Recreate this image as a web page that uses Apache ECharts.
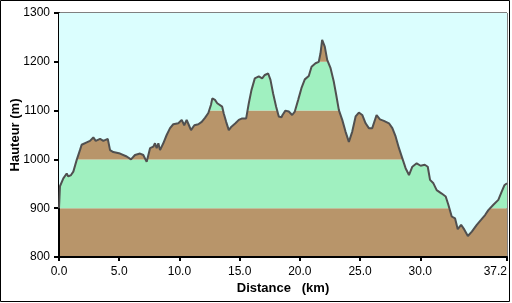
<!DOCTYPE html>
<html>
<head>
<meta charset="utf-8">
<script src="https://cdn.jsdelivr.net/npm/echarts@6/dist/echarts.min.js"></script>
<style>
html,body{margin:0;padding:0;background:#fff;}
#c{width:512px;height:303px;}
</style>
</head>
<body>
<div id="c"></div>
<script>
// Distance (km)
const distances = [0.0, 0.08, 0.17, 0.36, 0.64, 0.77, 1.0, 1.19, 1.47, 1.74, 1.88, 2.30, 2.57, 2.85, 3.05, 3.41, 3.68, 4.05, 4.24, 4.51, 5.07, 5.62, 5.98, 6.31, 6.73, 7.00, 7.28, 7.56, 7.83, 7.97, 8.11, 8.25, 8.39, 8.66, 8.94, 9.22, 9.49, 9.91, 10.19, 10.40, 10.60, 10.79, 10.96, 11.24, 11.57, 11.85, 12.12, 12.40, 12.62, 12.73, 12.95, 13.14, 13.27, 13.55, 13.68, 13.88, 14.10, 14.32, 14.65, 14.93, 15.21, 15.54, 15.76, 15.98, 16.26, 16.59, 16.87, 17.09, 17.37, 17.56, 17.78, 18.03, 18.25, 18.47, 18.56, 18.80, 19.08, 19.36, 19.58, 19.86, 20.13, 20.41, 20.74, 20.97, 21.30, 21.57, 21.71, 21.85, 22.07, 22.27, 22.55, 22.82, 23.02, 23.24, 23.52, 23.79, 24.07, 24.35, 24.63, 24.90, 25.18, 25.46, 25.73, 26.01, 26.37, 26.65, 26.98, 27.40, 27.68, 27.95, 28.23, 28.51, 28.78, 29.06, 29.34, 29.70, 30.03, 30.37, 30.62, 30.81, 31.09, 31.36, 31.78, 32.11, 32.33, 32.61, 32.89, 33.11, 33.39, 33.66, 33.95, 34.28, 34.69, 35.04, 35.38, 35.65, 36.07, 36.48, 36.76, 36.98, 37.2];
// Elevation (m)
const elevations = [900, 945, 947, 961, 971, 965, 968, 975, 999, 1019, 1030, 1035, 1038, 1045, 1038, 1042, 1038, 1042, 1019, 1015, 1012, 1006, 1000, 1009, 1012, 1009, 995, 1023, 1026, 1033, 1023, 1033, 1019, 1033, 1050, 1064, 1072, 1074, 1081, 1070, 1081, 1070, 1060, 1070, 1072, 1077, 1085, 1095, 1112, 1125, 1122, 1115, 1118, 1108, 1094, 1077, 1060, 1067, 1074, 1081, 1084, 1084, 1115, 1142, 1166, 1170, 1166, 1173, 1176, 1163, 1135, 1108, 1088, 1086, 1091, 1100, 1098, 1091, 1098, 1122, 1146, 1164, 1171, 1190, 1197, 1200, 1217, 1245, 1231, 1204, 1187, 1159, 1132, 1101, 1081, 1057, 1036, 1057, 1088, 1096, 1091, 1074, 1064, 1064, 1091, 1082, 1079, 1074, 1064, 1047, 1023, 1002, 982, 968, 985, 992, 987, 989, 985, 958, 951, 937, 930, 924, 907, 883, 879, 857, 866, 856, 843, 852, 866, 876, 886, 896, 907, 917, 934, 947, 951];
// Tick labels
const xTicks = [0, 5, 10, 15, 20, 25, 30, 37.2];
const yTicks = [800, 900, 1000, 1100, 1200, 1300];

const profile = distances.map((d, i) => [d, elevations[i]]);

const chart = echarts.init(document.getElementById('c'), null, {renderer: 'canvas'});
chart.setOption({
  animation: false,
  backgroundColor: '#ffffff',
  textStyle: {fontFamily: 'Liberation Sans'},
  graphic: [{
    type: 'rect',
    shape: {x: 0.5, y: 0.5, width: 509, height: 301},
    style: {fill: 'none', stroke: '#000', lineWidth: 1},
    silent: true, z: 100
  }],
  grid: {
    left: 59, top: 13, right: 5, bottom: 46,
    containLabel: false,
    outerBoundsMode: 'none',
    show: true, borderColor: '#000', borderWidth: 1, backgroundColor: 'transparent'
  },
  xAxis: {
    type: 'value',
    min: 0, max: 37.2,
    name: 'Distance   (km)',
    nameLocation: 'middle',
    nameGap: 25,
    nameMoveOverlap: false,
    nameTextStyle: {fontFamily: 'Liberation Sans', fontWeight: 'bold', fontSize: 13, color: '#000'},
    axisLine: {show: true, onZero: false, lineStyle: {color: '#000', width: 2}},
    axisTick: {show: true, length: 4, customValues: xTicks, lineStyle: {color: '#000', width: 2}},
    axisLabel: {
      customValues: xTicks,
      formatter: v => Number(v).toFixed(1),
      color: '#000', fontSize: 12, fontFamily: 'Liberation Sans', margin: 9,
      alignMaxLabel: 'right'
    },
    splitLine: {show: false}
  },
  yAxis: {
    type: 'value',
    min: 800, max: 1300, interval: 100,
    name: 'Hauteur (m)',
    nameLocation: 'middle',
    nameGap: 37,
    nameMoveOverlap: false,
    nameTextStyle: {fontFamily: 'Liberation Sans', fontWeight: 'bold', fontSize: 13, color: '#000'},
    axisLine: {show: true, onZero: false, lineStyle: {color: '#000', width: 2}},
    axisTick: {show: true, length: 5, lineStyle: {color: '#000', width: 2}},
    axisLabel: {
      customValues: yTicks,
      formatter: v => String(v),
      color: '#000', fontSize: 12, fontFamily: 'Liberation Sans', margin: 9
    },
    splitLine: {show: false},
    splitArea: {show: true, areaStyle: {color: ['#B8956A', '#A0F0C0'], opacity: 1}}
  },
  series: [{
    type: 'line',
    data: profile,
    showSymbol: false,
    symbol: 'none',
    smooth: false,
    z: 3,
    lineStyle: {color: '#505050', width: 2},
    areaStyle: {origin: 'end', color: '#DBFEFE', opacity: 1}
  }]
});
</script>
</body>
</html>
